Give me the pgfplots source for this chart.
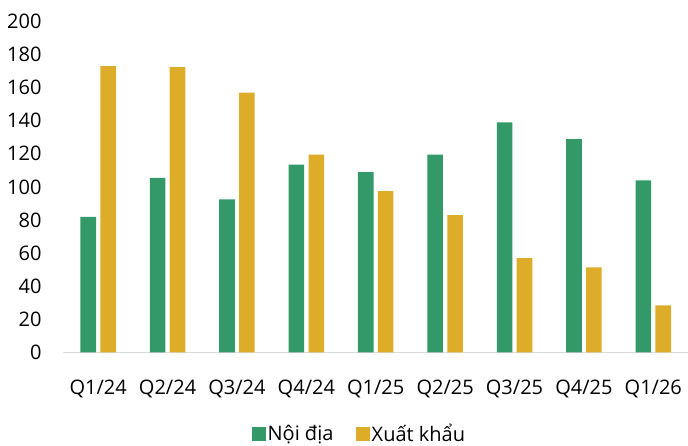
\documentclass[border=0pt]{standalone}
\usepackage{fontspec}
\setmainfont{Open Sans}
\usepackage{pgfplots}
\pgfplotsset{compat=1.18}
\definecolor{cgreen}{RGB}{51,153,104}
\definecolor{cyellow}{RGB}{221,172,40}
\definecolor{cbase}{RGB}{217,217,217}
\begin{document}
\begin{tikzpicture}
\begin{axis}[
  scale only axis,
  width=624.5pt, height=331pt,
  xmin=-0.5, xmax=8.5, ymin=0, ymax=200,
  enlarge x limits=false,
  ybar=4.3pt, bar width=15.6pt,
  axis line style={draw=none},
  tick style={draw=none},
  xtick={0,...,8},
  xticklabels={Q1/24,Q2/24,Q3/24,Q4/24,Q1/25,Q2/25,Q3/25,Q4/25,Q1/26},
  ytick={0,20,...,200},
  /pgf/number format/assume math mode=true,
  ticklabel style={font=\fontsize{20}{24}\selectfont, inner sep=0pt},
  xticklabel style={anchor=base, yshift=-37.5pt},
  yticklabel style={anchor=base east, xshift=-21.8pt, yshift=-7.1pt},
  legend columns=2,
  legend style={draw=none, fill=none, at={(0.4743,-0.246)}, anchor=center,
    font=\fontsize{20}{24}\selectfont, inner sep=0pt,
    /tikz/every even column/.append style={column sep=21pt}},
  legend image code/.code={\fill[#1] (0pt,-6.65pt) rectangle (13.3pt,6.65pt);},
]
\draw[cbase, line width=1.4pt] (axis cs:-0.5,0) -- (axis cs:8.5,0);
\addplot[fill=cgreen, draw=none] coordinates {
  (0,82) (1,105.5) (2,92.5) (3,113.5) (4,109) (5,119.5) (6,139) (7,129) (8,104)};
\addplot[fill=cyellow, draw=none] coordinates {
  (0,173) (1,172.5) (2,157) (3,119.5) (4,97.5) (5,83) (6,57) (7,51.5) (8,28.5)};
\legend{Nội địa, Xuất khẩu}
\end{axis}
\pgfresetboundingbox
\path (-63.5pt,-93.5pt) rectangle (624.5pt,352.5pt);
\end{tikzpicture}
\end{document}
